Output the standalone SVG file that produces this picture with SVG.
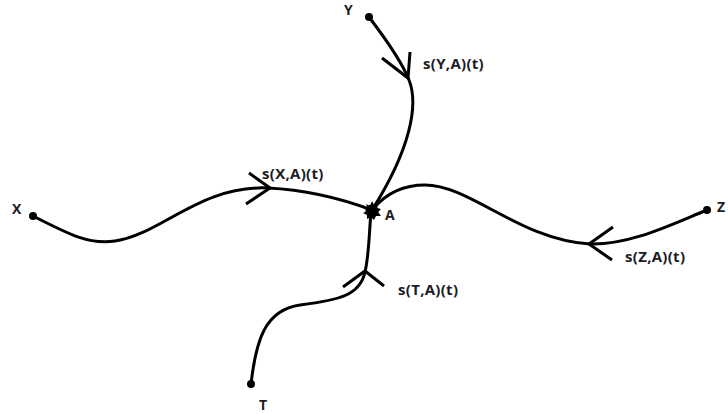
<svg xmlns="http://www.w3.org/2000/svg" width="728" height="414" viewBox="0 0 728 414">
  <style>
    .curve { fill: none; stroke: #000; stroke-width: 3; stroke-linecap: round; stroke-linejoin: round; }
    .head { fill: none; stroke: #000; stroke-width: 3; stroke-linecap: butt; stroke-linejoin: miter; }
    .dot { fill: #000; }
    .lbl { font-family: "Open Sans", "Liberation Sans", sans-serif; font-weight: bold; font-size: 14px; fill: #1c1c24; }
    .fn { font-size: 15px; letter-spacing: 0.3px; }
  </style>
  <rect width="728" height="414" fill="#fff"/>

  <!-- connectors: each trajectory runs from its source point into A -->
  <g id="connectors">
    <path class="curve" d="M369,17 C388,42 402,62 409,80 C419,105 410,150 372,210"/>
    <path class="head" d="M382,58 L408,78 L410,52"/>

    <path class="curve" d="M33,216 C70,235 90,245 115,241 C160,235 200,185 268,188 C310,190 345,200 372,210"/>
    <path class="head" d="M249,173 L270,188 L246,204"/>

    <path class="curve" d="M707,210 C670,225 630,245 590,244 C520,240 470,185 425,185 C400,185 385,195 374,208"/>
    <path class="head" d="M613,227 L589,244 L612,260"/>

    <path class="curve" d="M251,384 C256,340 265,310 300,305 C340,300 360,295 365,272 C369,255 369,235 371,212"/>
    <path class="head" d="M343,287 L365,271 L384,286"/>
  </g>

  <g id="node-Y">
    <circle class="dot" cx="369" cy="17" r="4"/>
    <text class="lbl" x="344" y="15">Y</text>
  </g>
  <g id="node-X">
    <circle class="dot" cx="33" cy="216" r="4"/>
    <text class="lbl" x="12" y="214">X</text>
  </g>
  <g id="node-Z">
    <circle class="dot" cx="707" cy="210" r="4"/>
    <text class="lbl" x="717" y="212">Z</text>
  </g>
  <g id="node-T">
    <circle class="dot" cx="251" cy="384" r="4"/>
    <text class="lbl" x="259" y="410">T</text>
  </g>
  <g id="node-A">
    <circle class="dot" cx="372" cy="211" r="6.5"/>
    <path class="dot" d="M364,207 L368,209 L366,204 L370,206 L372,201 L374,205 L378,203 L377,208 L381,209 L378,212 L381,216 L376,216 L374,220 L371,217 L367,219 L367,215 L363,213 L367,211 Z"/>
    <text class="lbl" x="385" y="220">A</text>
  </g>

  <g id="labels">
    <text class="lbl fn" x="423" y="69">s(Y,A)(t)</text>
    <text class="lbl fn" x="262" y="179">s(X,A)(t)</text>
    <text class="lbl fn" x="625" y="262">s(Z,A)(t)</text>
    <text class="lbl fn" x="398" y="295">s(T,A)(t)</text>
  </g>
</svg>
